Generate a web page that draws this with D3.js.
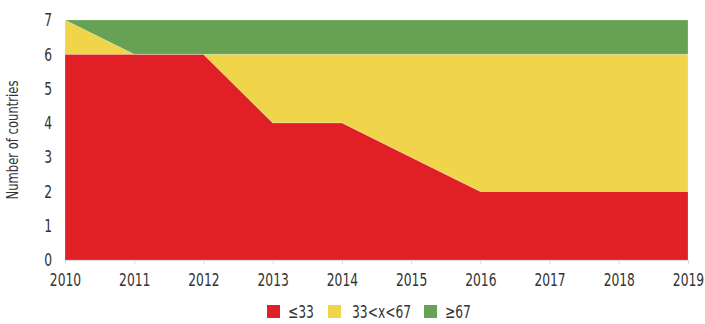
<!DOCTYPE html>
<html>
<head>
<meta charset="utf-8">
<script src="https://cdn.jsdelivr.net/npm/d3@7"></script>
<style>
  html, body { margin: 0; padding: 0; background: #fff; }
  svg { display: block; }
  text { font-family: "Liberation Sans Narrow", "DejaVu Sans Condensed", sans-serif; fill: #333; }
</style>
</head>
<body>
<svg id="chart" width="705" height="324"></svg>
<script>
// Number of countries per score band, 2010–2019
const years = [2010, 2011, 2012, 2013, 2014, 2015, 2016, 2017, 2018, 2019];
const low  = [6, 6, 6, 4, 4, 3, 2, 2, 2, 2];   // ≤33
const mid  = [1, 0, 0, 2, 2, 3, 4, 4, 4, 4];   // 33<x<67
const high = [0, 1, 1, 1, 1, 1, 1, 1, 1, 1];   // ≥67
const seriesNames = ["≤33", "33<x<67", "≥67"];
const seriesColors = ["#e11f27", "#f0d54a", "#67a254"];
const yTicks = [0, 1, 2, 3, 4, 5, 6, 7];

const svg = d3.select("#chart");
const margin = { left: 65, right: 17, top: 20, bottom: 64 };
const W = 705, H = 324;
const squeeze = 0.76;   // horizontal compression for a condensed look

const x = d3.scaleLinear().domain([years[0], years[years.length - 1]])
  .range([margin.left, W - margin.right]);
const y = d3.scaleLinear().domain([0, 7]).range([H - margin.bottom, margin.top]);

const table = years.map((yr, i) => ({ year: yr, "≤33": low[i], "33<x<67": mid[i], "≥67": high[i] }));
const stacked = d3.stack().keys(seriesNames)(table);

const area = d3.area()
  .x(d => x(d.data.year))
  .y0(d => y(d[0]))
  .y1(d => y(d[1]));

svg.append("g").selectAll("path")
  .data(stacked)
  .join("path")
  .attr("d", area)
  .attr("fill", (d, i) => seriesColors[i])
  .attr("stroke", "#fff")
  .attr("stroke-opacity", 0.25)
  .attr("stroke-width", 0.8);

// x axis
const xAxis = svg.append("g")
  .attr("transform", `translate(0,${y(0)})`)
  .call(d3.axisBottom(x).tickValues(years).tickFormat(d3.format("d")).tickSize(4).tickPadding(9));
xAxis.select(".domain").attr("stroke", "#d9d9d9");
xAxis.selectAll(".tick line").attr("stroke", "#d9d9d9");
xAxis.selectAll(".tick text")
  .attr("font-size", 18)
  .attr("transform", `scale(${squeeze},1)`)
  .style("fill", "#333");

// y axis (labels only)
const yAxis = svg.append("g")
  .attr("transform", `translate(${margin.left},0)`)
  .call(d3.axisLeft(y).tickValues(yTicks).tickFormat(d3.format("d")).tickSize(0));
yAxis.select(".domain").remove();
yAxis.selectAll(".tick text")
  .attr("font-size", 18)
  .attr("x", -13 / squeeze)
  .attr("transform", `scale(${squeeze},1)`)
  .style("fill", "#333");

svg.append("text")
  .attr("transform", `translate(18,${(y(0) + y(7)) / 2}) rotate(-90) scale(0.86,1)`)
  .attr("text-anchor", "middle")
  .attr("font-size", 15)
  .text("Number of countries");

// legend
const legendX = [267, 328, 424];
const legend = svg.append("g").selectAll("g")
  .data(seriesNames)
  .join("g")
  .attr("transform", (d, i) => `translate(${legendX[i]},305)`);
legend.append("rect")
  .attr("width", 13).attr("height", 13)
  .attr("fill", (d, i) => seriesColors[i]);
legend.append("text")
  .attr("transform", (d, i) => `translate(${i === 0 ? 21 : i === 1 ? 24 : 21},12.5) scale(${squeeze},1)`)
  .attr("font-size", 18)
  .text(d => d);
</script>
</body>
</html>
